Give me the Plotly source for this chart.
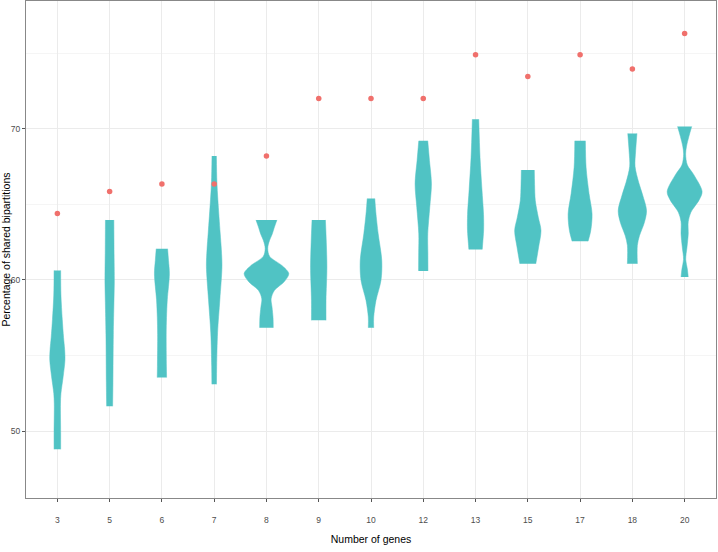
"""
Violin plot: percentage of shared bipartitions vs number of genes.
"""
import plotly.graph_objects as go

# categories (number of genes)
genes = ["3", "5", "6", "7", "8", "9", "10", "12", "13", "15", "17", "18", "20"]

# red reference points (one per category)
ref_values = [64.4, 65.85, 66.35, 66.35, 68.2, 72.0, 72.0, 72.0, 74.9, 73.45, 74.9, 73.95, 76.3]

# violin profiles: levels and density (relative half width)
levels_3 = [48.8, 49.9, 51.8, 52.5, 53.6, 54.7, 55.4, 56.2, 57.4, 59.0, 60.63]
dens_3 = [3.3, 3.3, 3.1, 3.6, 5.8, 7.6, 7.3, 6.2, 4.9, 3.6, 3.3]
levels_5 = [51.65, 53.2, 56.4, 58.5, 59.8, 62.0, 63.97]
dens_5 = [3.0, 3.3, 3.7, 4.3, 4.7, 4.4, 4.2]
levels_6 = [53.55, 54.3, 56.4, 57.5, 58.7, 60.4, 61.3, 62.06]
dens_6 = [4.7, 4.5, 4.3, 4.6, 5.4, 7.5, 6.6, 5.7]
levels_7 = [53.1, 54.3, 56.5, 58.7, 60.9, 62.0, 63.1, 65.3, 66.5, 68.2]
dens_7 = [2.3, 2.5, 3.4, 5.7, 7.8, 7.2, 6.0, 3.7, 2.7, 2.2]
levels_8 = [56.84, 57.5, 58.2, 58.75, 59.3, 59.9, 60.42, 60.94, 61.56, 62.08, 62.6, 63.02, 63.5, 63.97]
dens_8 = [6.8, 6.6, 5.6, 4.7, 7.9, 18.0, 22.4, 15.8, 3.2, 1.3, 3.0, 5.7, 8.0, 10.5]
levels_9 = [57.33, 58.65, 60.85, 62.5, 63.97]
dens_9 = [7.3, 7.3, 8.2, 7.6, 6.7]
levels_10 = [56.84, 57.55, 58.65, 59.97, 61.29, 63.05, 64.5, 65.38]
dens_10 = [2.7, 2.7, 5.0, 10.0, 10.8, 7.2, 4.8, 3.8]
levels_12 = [60.6, 61.8, 63.05, 64.8, 66.35, 67.9, 69.2]
dens_12 = [4.7, 4.6, 4.5, 6.5, 8.2, 6.2, 4.5]
levels_13 = [62.02, 62.44, 63.3, 64.33, 66.0, 68.1, 70.63]
dens_13 = [6.7, 7.2, 8.1, 8.0, 6.4, 4.5, 3.2]
levels_15 = [61.07, 62.17, 63.27, 64.15, 65.25, 66.3, 67.27]
dens_15 = [8.0, 10.8, 13.2, 10.5, 7.5, 6.8, 6.5]
levels_17 = [62.56, 63.27, 64.37, 65.7, 67.45, 69.2]
dens_17 = [8.0, 10.7, 12.0, 9.0, 6.0, 5.3]
levels_18 = [61.07, 62.29, 62.92, 63.75, 64.58, 65.62, 66.46, 67.5, 68.54, 69.69]
dens_18 = [5.0, 5.0, 7.1, 11.8, 14.2, 10.3, 6.3, 2.7, 3.3, 4.6]
levels_20 = [60.2, 60.73, 61.35, 62.19, 63.02, 63.85, 64.48, 65.31, 65.85, 66.98, 67.6, 68.33, 68.85, 69.5, 70.15]
dens_20 = [3.6, 2.7, 1.1, 2.4, 3.6, 3.6, 6.3, 14.7, 17.5, 9.0, 2.7, 1.0, 1.9, 4.3, 7.1]

profiles = [
    (levels_3, dens_3), (levels_5, dens_5), (levels_6, dens_6), (levels_7, dens_7),
    (levels_8, dens_8), (levels_9, dens_9), (levels_10, dens_10), (levels_12, dens_12),
    (levels_13, dens_13), (levels_15, dens_15), (levels_17, dens_17), (levels_18, dens_18),
    (levels_20, dens_20),
]

DENSITY_SCALE = 1 / 52.4  # density -> category units
VIOLIN_COLOR = "#50C3C4"
POINT_COLOR = "#F0706C"
FONT = "Liberation Sans, Arial, sans-serif"

fig = go.Figure()

# each violin = left edge + right edge filled between (keeps the flat trimmed ends)
for i, (lv, dn) in enumerate(profiles):
    edge = dict(color=VIOLIN_COLOR, width=0.5, shape="spline", smoothing=0.9)
    fig.add_trace(go.Scatter(
        x=[i - d * DENSITY_SCALE for d in dn], y=lv,
        mode="lines", line=edge, hoverinfo="skip", showlegend=False,
    ))
    fig.add_trace(go.Scatter(
        x=[i + d * DENSITY_SCALE for d in dn], y=lv,
        mode="lines", line=edge, fill="tonextx", fillcolor=VIOLIN_COLOR,
        hoverinfo="skip", showlegend=False,
    ))

fig.add_trace(go.Scatter(
    x=list(range(len(genes))),
    y=ref_values,
    mode="markers",
    marker=dict(color=POINT_COLOR, size=5.5),
    showlegend=False,
))

tick_font = dict(family=FONT, size=8.5, color="#4d4d4d")

fig.update_layout(
    width=718,
    height=552,
    margin=dict(l=26, r=2, t=1, b=54),
    plot_bgcolor="white",
    paper_bgcolor="white",
    hovermode=False,
    font=dict(family=FONT, color="black"),
    xaxis=dict(
        range=[-0.6, 12.6],
        tickmode="array",
        tickvals=list(range(len(genes))),
        ticktext=genes,
        tickfont=tick_font,
        ticks="outside",
        ticklen=3,
        tickcolor="#555555",
        ticklabelstandoff=11,
        showgrid=True,
        gridcolor="#ebebeb",
        gridwidth=1,
        showline=True,
        linecolor="#888888",
        linewidth=1,
        mirror=True,
        zeroline=False,
        automargin=False,
        title=dict(text="Number of genes", font=dict(size=10.5), standoff=11),
    ),
    yaxis=dict(
        range=[45.58, 78.45],
        tickmode="linear",
        tick0=50,
        dtick=10,
        tickfont=tick_font,
        ticks="outside",
        ticklen=3,
        tickcolor="#555555",
        showgrid=True,
        gridcolor="#ebebeb",
        gridwidth=1,
        minor=dict(dtick=5, tick0=45, showgrid=True, gridcolor="#f5f5f5", gridwidth=1),
        showline=True,
        linecolor="#888888",
        linewidth=1,
        mirror=True,
        zeroline=False,
        automargin=False,
        title=dict(text="Percentage of shared bipartitions", font=dict(size=10.5), standoff=2),
    ),
)

# page body margin off so the figure sits at the window's top-left corner; no modebar
fig.write_html(
    "out.html",
    config={"displayModeBar": False},
    post_script="document.body.style.margin = '0';",
)
